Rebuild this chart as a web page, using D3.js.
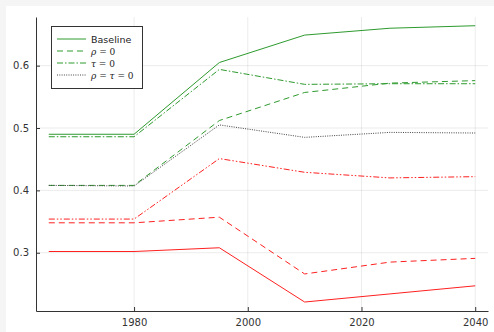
<!DOCTYPE html>
<html>
<head>
<meta charset="utf-8">
<script src="https://cdn.jsdelivr.net/npm/d3@7"></script>
<style>
  body { margin: 0; background: #f5f5f5; }
  text { font-family: "DejaVu Sans", sans-serif; }
</style>
</head>
<body>
<svg id="chart" width="494" height="332"></svg>
<script>
// years on the x axis
var years = [1965, 1980, 1995, 2010, 2025, 2040];

// green group
var baseline  = [0.490, 0.490, 0.605, 0.649, 0.660, 0.664];
var rhoZero   = [0.408, 0.408, 0.512, 0.557, 0.572, 0.576];
var tauZero   = [0.486, 0.486, 0.594, 0.570, 0.571, 0.571];
var bothZero  = [0.408, 0.407, 0.505, 0.485, 0.493, 0.492];

// red group
var redBase   = [0.302, 0.302, 0.308, 0.221, 0.234, 0.247];
var redRho    = [0.348, 0.348, 0.357, 0.266, 0.285, 0.291];
var redTau    = [0.354, 0.354, 0.451, 0.429, 0.420, 0.422];

var xTicks = [1980, 2000, 2020, 2040];
var yTicks = [0.3, 0.4, 0.5, 0.6];

var series = [
  {vals: baseline, color: "#2e9a2e", dash: null,        label: "Baseline"},
  {vals: rhoZero,  color: "#2e9a2e", dash: "6,4",       label: "rho"},
  {vals: tauZero,  color: "#2e9a2e", dash: "6,2,1.5,2", label: "tau"},
  {vals: bothZero, color: "#444",    dash: "1,1.3",     label: "both"},
  {vals: redBase,  color: "#ff2020", dash: null},
  {vals: redRho,   color: "#ff2020", dash: "6,4"},
  {vals: redTau,   color: "#ff2020", dash: "6,2,1.5,2,1.5,2"}
];

var svg = d3.select("#chart");
svg.append("rect").attr("x", 6).attr("y", 6).attr("width", 488).attr("height", 326).attr("fill", "white");

var x = d3.scaleLinear().domain([1962.75, 2042.25]).range([36, 488]);
var y = d3.scaleLinear().domain([0.2066, 0.678]).range([311, 17]);

// grid
svg.append("g").selectAll("line").data(xTicks).join("line")
  .attr("x1", d => x(d)).attr("x2", d => x(d)).attr("y1", 17).attr("y2", 311)
  .attr("stroke", "#000").attr("stroke-opacity", 0.08);
svg.append("g").selectAll("line").data(yTicks).join("line")
  .attr("x1", 36).attr("x2", 488).attr("y1", d => y(d)).attr("y2", d => y(d))
  .attr("stroke", "#000").attr("stroke-opacity", 0.08);

// axes
var xAxis = d3.axisBottom(x).tickValues(xTicks).tickSizeInner(-4).tickSizeOuter(0).tickPadding(8).tickFormat(d3.format("d"));
var yAxis = d3.axisLeft(y).tickValues(yTicks).tickSizeInner(-4).tickSizeOuter(0).tickPadding(7).tickFormat(d3.format(".1f"));

var gx = svg.append("g").attr("transform", "translate(0,311)").call(xAxis);
var gy = svg.append("g").attr("transform", "translate(36,0)").call(yAxis);
[gx, gy].forEach(function(g) {
  g.select(".domain").attr("stroke", "#333");
  g.selectAll(".tick line").attr("stroke", "#333");
  g.selectAll(".tick text").attr("fill", "#333").style("font-size", "10px");
});

var line = d3.line().x((d, i) => x(years[i])).y(d => y(d));

svg.append("g").selectAll("path").data(series).join("path")
  .attr("d", d => line(d.vals))
  .attr("fill", "none")
  .attr("stroke", d => d.color)
  .attr("stroke-width", 1)
  .attr("stroke-dasharray", d => d.dash);

// legend
var legend = svg.append("g");
legend.append("rect").attr("x", 51.5).attr("y", 26.5).attr("width", 91).attr("height", 62)
  .attr("fill", "white").attr("stroke", "#333");

var entries = series.filter(d => d.label);
var rows = legend.selectAll("g.row").data(entries).join("g")
  .attr("transform", (d, i) => "translate(0," + (39 + i * 12) + ")");
rows.append("line").attr("x1", 57).attr("x2", 86).attr("y1", 0).attr("y2", 0)
  .attr("stroke", d => d.color).attr("stroke-dasharray", d => d.dash);

rows.each(function(d) {
  var t = d3.select(this).append("text").attr("x", 91).attr("y", 3.5)
    .attr("fill", "#222").style("font-size", "9.5px");
  if (d.label === "Baseline") {
    t.text("Baseline");
    return;
  }
  t.style("font-family", "'DejaVu Serif', serif").style("font-size", "9px");
  var parts;
  if (d.label === "rho") parts = [["ρ", true], [" = 0", false]];
  else if (d.label === "tau") parts = [["τ", true], [" = 0", false]];
  else parts = [["ρ", true], [" = ", false], ["τ", true], [" = 0", false]];
  parts.forEach(function(p) {
    t.append("tspan").text(p[0]).style("font-style", p[1] ? "italic" : "normal");
  });
});
</script>
</body>
</html>
